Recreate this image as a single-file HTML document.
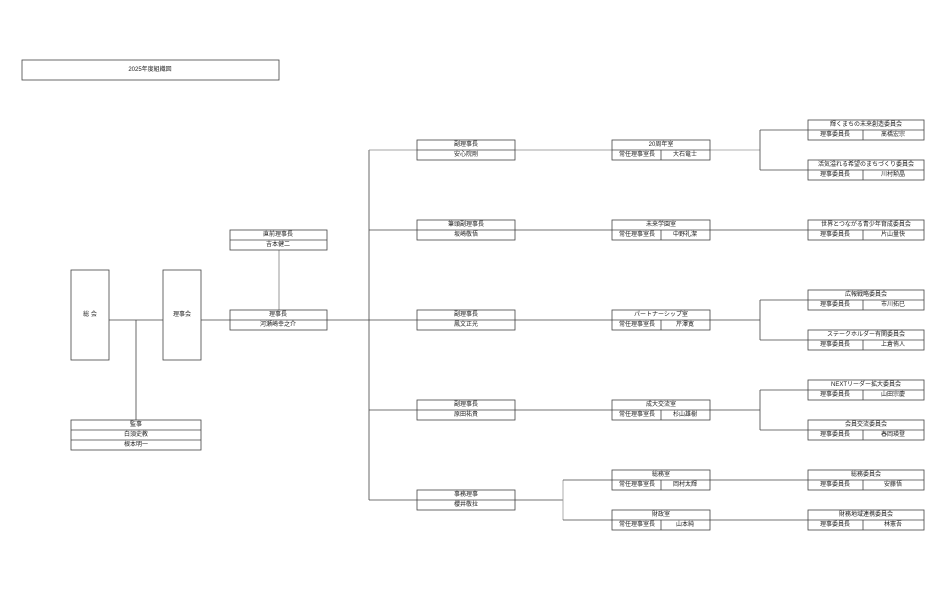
<!DOCTYPE html>
<html><head><meta charset="utf-8"><style>
html,body{margin:0;padding:0;background:#fff;}
svg text{font-family:"Liberation Sans","Noto Sans CJK JP",sans-serif;font-size:6px;fill:#222;text-anchor:middle;dominant-baseline:central;}
</style></head><body>
<svg width="947" height="587" viewBox="0 0 947 587" xmlns="http://www.w3.org/2000/svg">
<g fill="none" stroke="#444" stroke-width="0.8">
<!-- connectors -->
<line x1="109" y1="320" x2="163" y2="320"/>
<line x1="136" y1="320" x2="136" y2="420"/>
<line x1="201" y1="320" x2="369" y2="320"/>
<line x1="279" y1="250" x2="279" y2="310" stroke="#aaa" stroke-width="1.2"/>
<line x1="369" y1="150" x2="369" y2="500"/>
<line x1="369" y1="150" x2="612" y2="150" stroke="#888"/>
<line x1="369" y1="230" x2="612" y2="230"/>
<line x1="369" y1="320" x2="612" y2="320"/>
<line x1="369" y1="410" x2="612" y2="410"/>
<line x1="369" y1="500" x2="563" y2="500"/>
<line x1="563" y1="480" x2="563" y2="520" stroke="#999"/>
<line x1="563" y1="480" x2="612" y2="480"/>
<line x1="563" y1="520" x2="612" y2="520"/>
<line x1="710" y1="150" x2="760" y2="150" stroke="#999"/>
<line x1="760" y1="130" x2="760" y2="170"/>
<line x1="760" y1="130" x2="808" y2="130"/>
<line x1="760" y1="170" x2="808" y2="170"/>
<line x1="710" y1="230" x2="808" y2="230"/>
<line x1="710" y1="320" x2="760" y2="320"/>
<line x1="760" y1="300" x2="760" y2="340"/>
<line x1="760" y1="300" x2="808" y2="300"/>
<line x1="760" y1="340" x2="808" y2="340"/>
<line x1="710" y1="410" x2="760" y2="410"/>
<line x1="760" y1="390" x2="760" y2="430"/>
<line x1="760" y1="390" x2="808" y2="390"/>
<line x1="760" y1="430" x2="808" y2="430"/>
<line x1="710" y1="480" x2="808" y2="480"/>
<line x1="710" y1="520" x2="808" y2="520"/>
</g>
<g fill="#fff" stroke="#444" stroke-width="0.8">
<rect x="22" y="60" width="257" height="20"/>
<rect x="71" y="270" width="38" height="90"/>
<rect x="163" y="270" width="38" height="90"/>
<rect x="71" y="420" width="130" height="30"/>
<line x1="71" y1="430" x2="201" y2="430"/><line x1="71" y1="440" x2="201" y2="440"/>
<rect x="230" y="230" width="97" height="20"/><line x1="230" y1="240" x2="327" y2="240"/>
<rect x="230" y="310" width="97" height="20"/><line x1="230" y1="320" x2="327" y2="320"/>
<!-- col2 -->
<rect x="417" y="140" width="98" height="20"/><line x1="417" y1="150" x2="515" y2="150"/>
<rect x="417" y="220" width="98" height="20"/><line x1="417" y1="230" x2="515" y2="230"/>
<rect x="417" y="310" width="98" height="20"/><line x1="417" y1="320" x2="515" y2="320"/>
<rect x="417" y="400" width="98" height="20"/><line x1="417" y1="410" x2="515" y2="410"/>
<rect x="417" y="490" width="98" height="20"/><line x1="417" y1="500" x2="515" y2="500"/>
<!-- col3 -->
<rect x="612" y="140" width="98" height="20"/><line x1="612" y1="150" x2="710" y2="150"/><line x1="661" y1="150" x2="661" y2="160"/>
<rect x="612" y="220" width="98" height="20"/><line x1="612" y1="230" x2="710" y2="230"/><line x1="661" y1="230" x2="661" y2="240"/>
<rect x="612" y="310" width="98" height="20"/><line x1="612" y1="320" x2="710" y2="320"/><line x1="661" y1="320" x2="661" y2="330"/>
<rect x="612" y="400" width="98" height="20"/><line x1="612" y1="410" x2="710" y2="410"/><line x1="661" y1="410" x2="661" y2="420"/>
<rect x="612" y="470" width="98" height="20"/><line x1="612" y1="480" x2="710" y2="480"/><line x1="661" y1="480" x2="661" y2="490"/>
<rect x="612" y="510" width="98" height="20"/><line x1="612" y1="520" x2="710" y2="520"/><line x1="661" y1="520" x2="661" y2="530"/>
<!-- col4 -->
<rect x="808" y="120" width="116" height="20"/><line x1="808" y1="130" x2="924" y2="130"/><line x1="863" y1="130" x2="863" y2="140"/>
<rect x="808" y="160" width="116" height="20"/><line x1="808" y1="170" x2="924" y2="170"/><line x1="863" y1="170" x2="863" y2="180"/>
<rect x="808" y="220" width="116" height="20"/><line x1="808" y1="230" x2="924" y2="230"/><line x1="863" y1="230" x2="863" y2="240"/>
<rect x="808" y="290" width="116" height="20"/><line x1="808" y1="300" x2="924" y2="300"/><line x1="863" y1="300" x2="863" y2="310"/>
<rect x="808" y="330" width="116" height="20"/><line x1="808" y1="340" x2="924" y2="340"/><line x1="863" y1="340" x2="863" y2="350"/>
<rect x="808" y="380" width="116" height="20"/><line x1="808" y1="390" x2="924" y2="390"/><line x1="863" y1="390" x2="863" y2="400"/>
<rect x="808" y="420" width="116" height="20"/><line x1="808" y1="430" x2="924" y2="430"/><line x1="863" y1="430" x2="863" y2="440"/>
<rect x="808" y="470" width="116" height="20"/><line x1="808" y1="480" x2="924" y2="480"/><line x1="863" y1="480" x2="863" y2="490"/>
<rect x="808" y="510" width="116" height="20"/><line x1="808" y1="520" x2="924" y2="520"/><line x1="863" y1="520" x2="863" y2="530"/>
</g>
<g>
<text x="150" y="70">2025年度組織図</text>
<text x="90" y="315">総 会</text>
<text x="182" y="315">理事会</text>
<text x="136" y="425">監事</text><text x="136" y="435">白須史教</text><text x="136" y="445">根本明一</text>
<text x="278" y="235">直前理事長</text><text x="278" y="245">吉本健二</text>
<text x="278" y="315">理事長</text><text x="278" y="325">河瀬崎幸之介</text>

<text x="466" y="145">副理事長</text><text x="466" y="155">安心院剛</text>
<text x="466" y="225">筆頭副理事長</text><text x="466" y="235">坂崎敬悟</text>
<text x="466" y="315">副理事長</text><text x="466" y="325">鳳文正光</text>
<text x="466" y="405">副理事長</text><text x="466" y="415">原田祐貴</text>
<text x="466" y="495">事務理事</text><text x="466" y="505">櫻井敬拉</text>

<text x="661" y="145">20周年室</text><text x="637" y="155">常任理事室長</text><text x="685" y="155">大石竜士</text>
<text x="661" y="225">未来学園室</text><text x="637" y="235">常任理事室長</text><text x="685" y="235">中野礼潔</text>
<text x="661" y="315">パートナーシップ室</text><text x="637" y="325">常任理事室長</text><text x="685" y="325">芹澤寛</text>
<text x="661" y="405">成大交流室</text><text x="637" y="415">常任理事室長</text><text x="685" y="415">杉山雄樹</text>
<text x="661" y="475">総務室</text><text x="637" y="485">常任理事室長</text><text x="685" y="485">岡村太輝</text>
<text x="661" y="515">財政室</text><text x="637" y="525">常任理事室長</text><text x="685" y="525">山本純</text>

<text x="866" y="125">輝くまちの未来創造委員会</text><text x="835" y="135">理事委員長</text><text x="893" y="135">髙橋宏宗</text>
<text x="866" y="165">活気溢れる希望のまちづくり委員会</text><text x="835" y="175">理事委員長</text><text x="893" y="175">川村勲晶</text>
<text x="866" y="225">世界とつながる青少年育成委員会</text><text x="835" y="235">理事委員長</text><text x="893" y="235">片山量快</text>
<text x="866" y="295">広報戦略委員会</text><text x="835" y="305">理事委員長</text><text x="893" y="305">市川拓巳</text>
<text x="866" y="335">ステークホルダー有関委員会</text><text x="835" y="345">理事委員長</text><text x="893" y="345">上倉侑人</text>
<text x="866" y="385">NEXTリーダー拡大委員会</text><text x="835" y="395">理事委員長</text><text x="893" y="395">山田宗慶</text>
<text x="866" y="425">会員交流委員会</text><text x="835" y="435">理事委員長</text><text x="893" y="435">春岡瑛登</text>
<text x="866" y="475">総務委員会</text><text x="835" y="485">理事委員長</text><text x="893" y="485">安藤悟</text>
<text x="866" y="515">財務地域連携委員会</text><text x="835" y="525">理事委員長</text><text x="893" y="525">林憲吾</text>
</g>
</svg>
</body></html>
